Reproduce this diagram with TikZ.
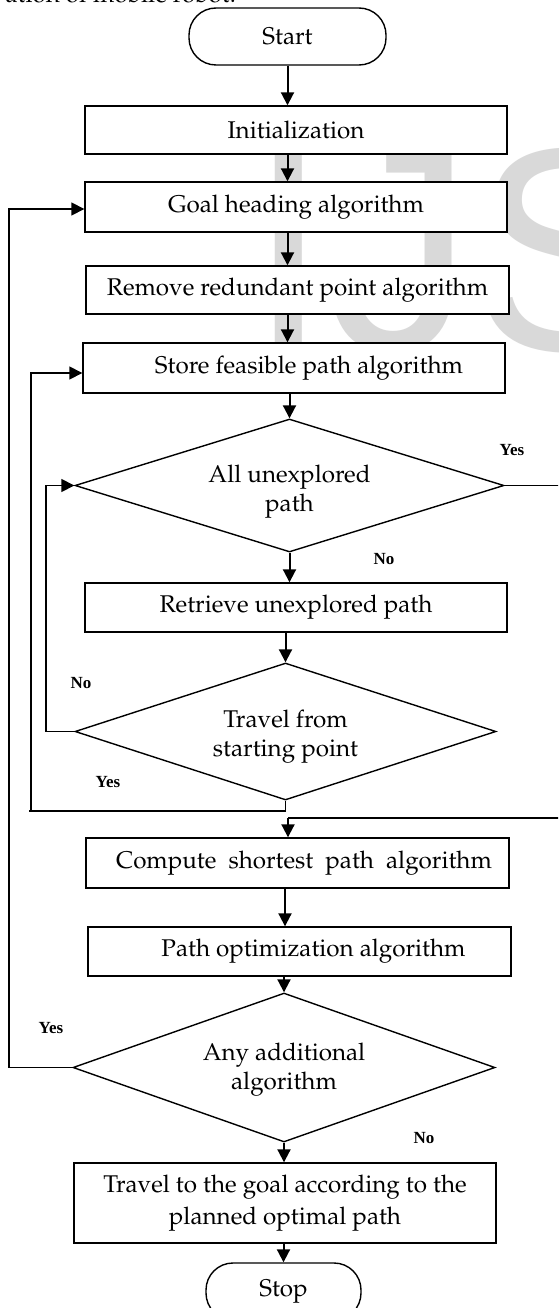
\documentclass[tikz,border=0pt]{standalone}
\usepackage[T1]{fontenc}
\usepackage{fontspec}
\usetikzlibrary{arrows.meta,shapes.geometric}
\newfontfamily\labfont{Liberation Serif}
\newfontfamily\wmfont{Liberation Sans}
\newcommand\palfont{\fontencoding{T1}\fontfamily{ppl}\selectfont}
\begin{document}
\begin{tikzpicture}[x=1pt,y=-1pt,
  txt/.style={font=\palfont\fontsize{24.2}{29.5}\selectfont},
  box/.style={txt, draw, line width=1.4pt, fill=white, minimum width=422pt, minimum height=49pt,
    inner sep=0pt, align=center},
  term/.style={box, rounded corners=27pt},
  dec/.style={draw, diamond, shape aspect=3, line width=1.4pt, fill=white, inner sep=0pt},
  dtext/.style={txt, align=center, inner sep=0pt},
  arr/.style={line width=2pt, -{Triangle[length=13pt,width=13pt]}},
  ln/.style={line width=1.6pt},
  lab/.style={font=\labfont\bfseries\fontsize{17}{19}\selectfont, inner sep=0pt},
  wm/.style={text=black!15, font=\wmfont\fontsize{290}{290}\selectfont, inner sep=0pt}
]
\useasboundingbox (0,0) rectangle (558,1308);
\clip (0,0) rectangle (558,1308);
\fill[white] (0,0) rectangle (558,1308);

% cut-off line of text above the figure and watermark
\node[txt, anchor=base east, inner sep=0pt] (above) at (236,3) {ation of mobile robot.};
\node[wm, anchor=base west] (wmark) at (248,350) {IJS};

% nodes
\node[term, minimum width=197pt, minimum height=57pt] (start) at (287.5,36.5) {Start};
\node[box, minimum height=48pt] (init) at (296,130) {Initialization};
\node[box, minimum height=50pt] (goal) at (296,207) {Goal heading algorithm};
\node[box, minimum width=423pt, minimum height=48pt] (remove) at (297.5,290) {Remove redundant point algorithm};
\node[box, minimum height=50pt] (store) at (294,368) {\hspace*{30pt}Store feasible path algorithm};
\node[dec, minimum width=429pt, minimum height=133pt,
  label={[dtext, yshift=-6pt]center:All unexplored\\path}] (d1) at (289.5,485.5) {};
\node[box, minimum height=49pt] (retrieve) at (296,607.5) {Retrieve unexplored path};
\node[dec, minimum width=421pt, minimum height=137pt,
  label={[dtext, yshift=-5pt]center:Travel from\\starting point}] (d2) at (285.5,731.5) {};
\node[box, minimum width=423pt, minimum height=50pt] (compute) at (297.5,863) {\hspace*{13pt}Compute\ \ shortest\ \ path\ \ algorithm};
\node[box, minimum width=423pt, minimum height=49pt] (pathopt) at (299.5,951.5) {\hspace*{28pt}Path optimization algorithm};
\node[dec, minimum width=422pt, minimum height=149pt,
  label={[dtext, yshift=-2pt]center:Any additional\\algorithm}] (d3) at (284,1067.5) {};
\node[box, minimum height=80pt, font=\palfont\fontsize{24.2}{32}\selectfont] (travel) at (285,1203) {Travel to the goal according to the\\planned optimal path};
\node[term, minimum width=155pt, minimum height=57pt] (stop) at (283.5,1291.5) {Stop};

% labels
\node[lab] (y1) at (512,450) {Yes};
\node[lab] (n1) at (384,559) {No};
\node[lab] (n2) at (81,683) {No};
\node[lab] (y2) at (108,782) {Yes};
\node[lab] (y3) at (51,1028) {Yes};
\node[lab] (n3) at (424,1138) {No};

% helper coordinates
\coordinate (a2) at (285,0);
\coordinate (nl) at (46,485.5);
\coordinate (jl) at (29,811);
\coordinate (jc) at (31,811);
\coordinate (rt) at (566,485.5);
\coordinate (jr) at (288,818);
\coordinate (ol) at (9,1067.5);

% main flow
\draw[arr] (start.south) -- (start.south |- init.north);
\draw[arr] (init.south -| start.south) -- (goal.north -| start.south);
\draw[arr] (goal.south -| start.south) -- (remove.north -| start.south);
\draw[arr] (remove.south -| start.south) -- (store.north -| start.south);
\draw[arr] (store.south -| d1.north) -- (d1.north);
\draw[arr] (d1.south) -- (d1.south |- retrieve.north);
\draw[arr] (retrieve.south -| d2.north) -- (d2.north);
\draw[arr] (compute.south -| a2) -- (pathopt.north -| a2);
\draw[arr] (pathopt.south -| d3.north) -- (d3.north);
\draw[arr] (d3.south) -- (d3.south |- travel.north);
\draw[arr] (travel.south -| stop.north) -- (stop.north);

% loops
\draw[arr, line width=1.6pt] (d2.west) -| (nl) -- (d1.west);
\draw[ln] (d2.south) |- (jl);
\draw[arr, line width=1.6pt] (jc) |- ([yshift=-5pt]store.west);
\draw[ln] (d1.east) -- (rt) |- (jr);
\draw[arr] (jr) -- (jr |- compute.north);
\draw[arr, line width=1.6pt] (d3.west) -- (ol) |- ([yshift=-2pt]goal.west);
\end{tikzpicture}
\end{document}
